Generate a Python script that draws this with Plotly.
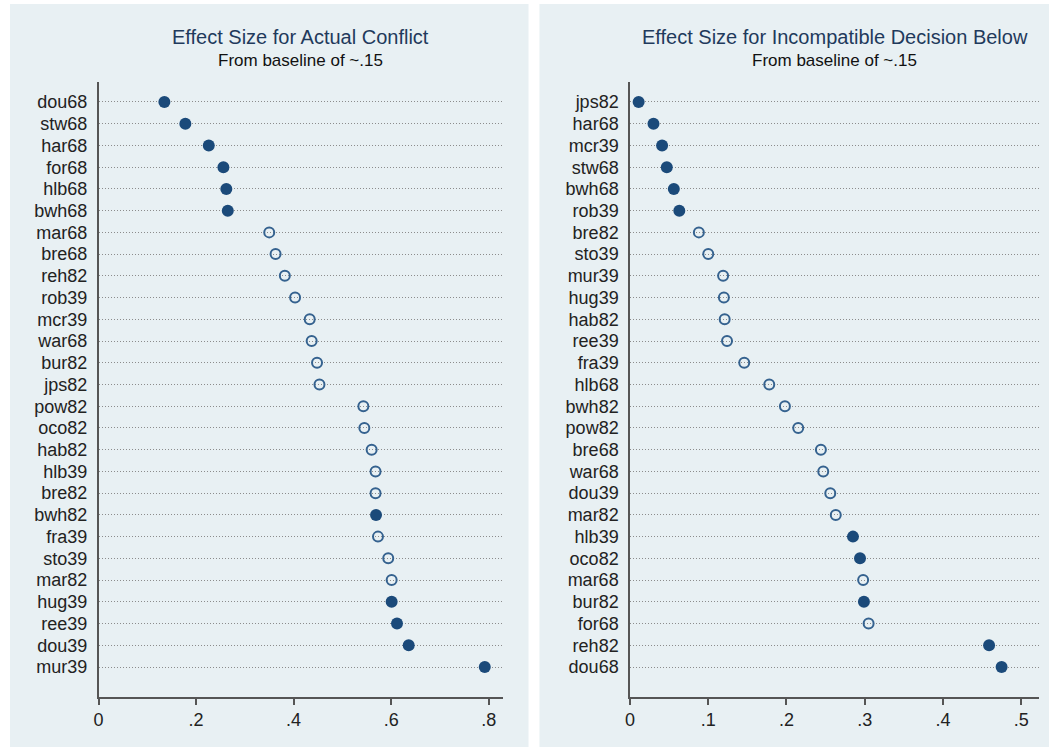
import plotly.graph_objects as go

# ---- data ----
left_names = ["dou68", "stw68", "har68", "for68", "hlb68", "bwh68", "mar68", "bre68", "reh82",
              "rob39", "mcr39", "war68", "bur82", "jps82", "pow82", "oco82", "hab82", "hlb39",
              "bre82", "bwh82", "fra39", "sto39", "mar82", "hug39", "ree39", "dou39", "mur39"]
left_values = [0.135, 0.178, 0.226, 0.256, 0.262, 0.265, 0.350, 0.363, 0.382,
               0.403, 0.433, 0.437, 0.448, 0.453, 0.543, 0.545, 0.560, 0.568,
               0.568, 0.569, 0.573, 0.594, 0.601, 0.601, 0.612, 0.636, 0.792]
left_sig = [1, 1, 1, 1, 1, 1, 0, 0, 0,
            0, 0, 0, 0, 0, 0, 0, 0, 0,
            0, 1, 0, 0, 0, 1, 1, 1, 1]

right_names = ["jps82", "har68", "mcr39", "stw68", "bwh68", "rob39", "bre82", "sto39", "mur39",
               "hug39", "hab82", "ree39", "fra39", "hlb68", "bwh82", "pow82", "bre68", "war68",
               "dou39", "mar82", "hlb39", "oco82", "mar68", "bur82", "for68", "reh82", "dou68"]
right_values = [0.011, 0.030, 0.041, 0.047, 0.056, 0.063, 0.088, 0.100, 0.119,
                0.120, 0.121, 0.124, 0.146, 0.178, 0.198, 0.215, 0.244, 0.247,
                0.256, 0.263, 0.285, 0.294, 0.298, 0.299, 0.305, 0.459, 0.475]
right_sig = [1, 1, 1, 1, 1, 1, 0, 0, 0,
             0, 0, 0, 0, 0, 0, 0, 0, 0,
             0, 0, 1, 1, 0, 1, 0, 1, 1]

left_ticks = [0, 0.2, 0.4, 0.6, 0.8]
left_ticktext = ["0", ".2", ".4", ".6", ".8"]
right_ticks = [0, 0.1, 0.2, 0.3, 0.4, 0.5]
right_ticktext = ["0", ".1", ".2", ".3", ".4", ".5"]

titles = ["Effect Size for Actual Conflict", "Effect Size for Incompatible Decision Below"]
subtitle = "From baseline of ~.15"

# ---- figure ----
W, H = 1053, 747
NAVY = "#1b4a7a"
HOLLOW = "#35628f"
PANEL = "#e8f0f3"
FONT = "Liberation Sans, Arial, sans-serif"

fig = go.Figure()


def px_x(p):
    return p / W


def px_y(p):
    return 1 - p / H


panels = [
    dict(names=left_names, vals=left_values, sig=left_sig, xa="x", ya="y",
         dom=[94, 500], rng=[0, 0.8286], tv=left_ticks, tt=left_ticktext, box=[5, 526]),
    dict(names=right_names, vals=right_values, sig=right_sig, xa="x2", ya="y2",
         dom=[628, 1039], rng=[0, 0.5229], tv=right_ticks, tt=right_ticktext, box=[537, 1049]),
]

for i, p in enumerate(panels):
    fx = [v for v, s in zip(p["vals"], p["sig"]) if s]
    fy = [n for n, s in zip(p["names"], p["sig"]) if s]
    hx = [v for v, s in zip(p["vals"], p["sig"]) if not s]
    hy = [n for n, s in zip(p["names"], p["sig"]) if not s]
    fig.add_trace(go.Scatter(x=hx, y=hy, mode="markers", xaxis=p["xa"], yaxis=p["ya"],
                             marker=dict(symbol="circle-open", size=10, color=HOLLOW,
                                         line=dict(width=2, color=HOLLOW)),
                             showlegend=False))
    fig.add_trace(go.Scatter(x=fx, y=fy, mode="markers", xaxis=p["xa"], yaxis=p["ya"],
                             marker=dict(symbol="circle", size=12, color=NAVY,
                                         line=dict(width=0)),
                             showlegend=False))
    # panel background
    fig.add_shape(type="rect", xref="paper", yref="paper",
                  x0=px_x(p["box"][0]), x1=px_x(p["box"][1]), y0=0, y1=px_y(4),
                  fillcolor=PANEL, line=dict(width=0), layer="below")
    n = len(p["names"])
    xa_key = "xaxis" if i == 0 else "xaxis2"
    ya_key = "yaxis" if i == 0 else "yaxis2"
    fig.update_layout(**{
        xa_key: dict(domain=[px_x(p["dom"][0]), px_x(p["dom"][1])], range=p["rng"],
                     anchor=p["ya"], tickmode="array", tickvals=p["tv"], ticktext=p["tt"],
                     showgrid=False, zeroline=False, showline=True, linecolor="#555555",
                     linewidth=1.5, ticks="outside", ticklen=6, tickwidth=1.5,
                     tickcolor="#555555",
                     tickfont=dict(family=FONT, size=18, color="#222222")),
        ya_key: dict(domain=[px_y(697), px_y(82)], type="category", categoryorder="array",
                     categoryarray=p["names"], range=[n - 1 + 1.38, -0.92], anchor=p["xa"],
                     tickmode="array", tickvals=p["names"], ticktext=p["names"],
                     showgrid=True, gridcolor="#8c8c8c", gridwidth=1, griddash="1px,2px",
                     zeroline=False, showline=True, linecolor="#555555", linewidth=1.5,
                     ticks="", ticklabelstandoff=6,
                     tickfont=dict(family=FONT, size=18, color="#222222")),
    })
    cx = px_x((p["dom"][0] + p["dom"][1]) / 2)
    fig.add_annotation(text=titles[i], xref="paper", yref="paper", x=cx, y=px_y(37),
                       showarrow=False, xanchor="center", yanchor="middle",
                       font=dict(family=FONT, size=20, color="#1f3a5c"))
    fig.add_annotation(text=subtitle, xref="paper", yref="paper", x=cx, y=px_y(60),
                       showarrow=False, xanchor="center", yanchor="middle",
                       font=dict(family=FONT, size=17, color="#111111"))

fig.update_layout(width=W, height=H, margin=dict(l=0, r=0, t=0, b=0),
                  paper_bgcolor="white", plot_bgcolor="white", showlegend=False)

fig.write_html("out.html", config={"displayModeBar": False},
               post_script="document.body.style.margin='0';document.body.style.overflow='hidden';")
